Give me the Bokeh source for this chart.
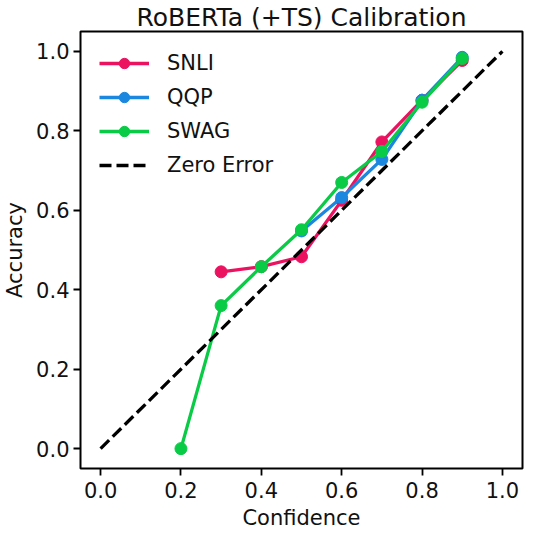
from bokeh.plotting import figure
from bokeh.models import FixedTicker, PrintfTickFormatter, Range1d
from bokeh.embed import file_html
from bokeh.resources import INLINE

FONT = "DejaVu Sans"

# Data
snli_conf = [0.3, 0.4, 0.5, 0.6, 0.7, 0.8, 0.9]
snli_acc = [0.445, 0.458, 0.483, 0.625, 0.772, 0.877, 0.977]

qqp_conf = [0.5, 0.6, 0.7, 0.8, 0.9]
qqp_acc = [0.548, 0.632, 0.728, 0.877, 0.985]

swag_conf = [0.2, 0.3, 0.4, 0.5, 0.6, 0.7, 0.8, 0.9]
swag_acc = [0.0, 0.36, 0.458, 0.551, 0.670, 0.748, 0.872, 0.982]

ideal_x = [0.0, 1.0]
ideal_y = [0.0, 1.0]

ticks = [0.0, 0.2, 0.4, 0.6, 0.8, 1.0]

series = [
    ("SNLI", snli_conf, snli_acc, "#EB1260"),
    ("QQP", qqp_conf, qqp_acc, "#1B87DF"),
    ("SWAG", swag_conf, swag_acc, "#0ACB46"),
]

p = figure(width=524, height=532, output_backend="svg", toolbar_location=None,
           x_range=Range1d(-0.05, 1.05), y_range=Range1d(-0.05, 1.05),
           min_border_left=76, min_border_right=2, min_border_top=10, min_border_bottom=10)

p.title.text = "RoBERTa (+TS) Calibration"
p.title.align = "center"
p.title.text_font = FONT
p.title.text_font_size = "25px"
p.title.text_font_style = "normal"
p.title.text_color = "#111111"
p.title.standoff = 0

for name, xs, ys, col in series:
    p.line(xs, ys, line_color=col, line_width=3.3, legend_label=name)
    p.scatter(xs, ys, size=12, fill_color=col, line_color=col, legend_label=name)

p.line(ideal_x, ideal_y, line_color="black", line_width=3.3, line_dash="12 5",
       legend_label="Zero Error")

p.xgrid.visible = False
p.ygrid.visible = False
p.outline_line_color = "black"
p.outline_line_width = 2
p.outline_line_alpha = 1.0

for ax in (p.xaxis[0], p.yaxis[0]):
    ax.ticker = FixedTicker(ticks=ticks)
    ax.formatter = PrintfTickFormatter(format="%.1f")
    ax.axis_line_color = None
    ax.major_tick_in = 0
    ax.major_tick_out = 7
    ax.major_tick_line_width = 1.8
    ax.major_tick_line_color = "black"
    ax.minor_tick_line_color = None
    ax.major_label_text_font = FONT
    ax.major_label_text_font_size = "21px"
    ax.major_label_text_color = "#111111"
    ax.major_label_standoff = 4
    ax.axis_label_text_font = FONT
    ax.axis_label_text_font_size = "21px"
    ax.axis_label_text_font_style = "normal"
    ax.axis_label_text_color = "#111111"

p.xaxis.axis_label = "Confidence"
p.yaxis.axis_label = "Accuracy"
p.xaxis.major_label_standoff = 6
p.xaxis.axis_label_standoff = 5
p.yaxis.axis_label_standoff = 6

lg = p.legend[0]
lg.location = "top_left"
lg.border_line_alpha = 0
lg.background_fill_alpha = 0
lg.label_text_font = FONT
lg.label_text_font_size = "21px"
lg.label_text_color = "#111111"
lg.glyph_width = 50
lg.glyph_height = 26
lg.label_height = 26
lg.label_standoff = 18
lg.spacing = 8
lg.margin = 11
lg.padding = 8

open("out.html", "w").write(file_html(p, INLINE))
